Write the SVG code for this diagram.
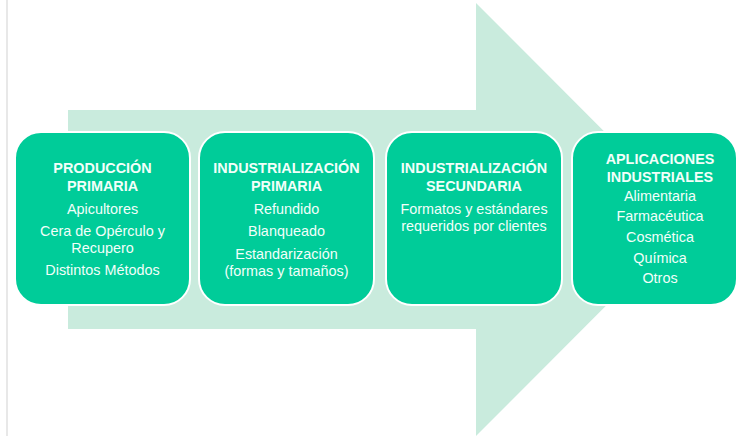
<svg xmlns="http://www.w3.org/2000/svg" width="738" height="436" viewBox="0 0 738 436">
<style>
.box{fill:#00cc99;stroke:#ffffff;stroke-width:2}
.t{font-family:"Liberation Sans",Arial,sans-serif;font-size:14.4px;fill:#f2fff9;text-anchor:middle}
.b{font-weight:bold}
</style>
<rect x="0" y="0" width="738" height="436" fill="#ffffff"/>
<line x1="7" y1="0" x2="7" y2="436" stroke="#e8e8e8" stroke-width="2"/>
<g id="arrow">
<polygon points="68,110 476,110 476,3 692,219.5 476,436 476,329 68,329" fill="#c9ebdd"/>
</g>
<g id="connectors"></g>
<g id="node1">
<rect class="box" x="15" y="132" width="175" height="173" rx="26"/>
<text class="t b" x="102.5" y="173">PRODUCCIÓN</text>
<text class="t b" x="102.5" y="191">PRIMARIA</text>
<text class="t" x="102.5" y="214">Apicultores</text>
<text class="t" x="102.5" y="236">Cera de Opérculo y</text>
<text class="t" x="102.5" y="253">Recupero</text>
<text class="t" x="102.5" y="275">Distintos Métodos</text>
</g>
<g id="node2">
<rect class="box" x="199" y="132" width="175" height="173" rx="26"/>
<text class="t b" x="286.5" y="173">INDUSTRIALIZACIÓN</text>
<text class="t b" x="286.5" y="191">PRIMARIA</text>
<text class="t" x="286.5" y="214">Refundido</text>
<text class="t" x="286.5" y="236">Blanqueado</text>
<text class="t" x="286.5" y="259">Estandarización</text>
<text class="t" x="286.5" y="276">(formas y tamaños)</text>
</g>
<g id="node3">
<rect class="box" x="386" y="132" width="176" height="173" rx="26"/>
<text class="t b" x="474" y="173">INDUSTRIALIZACIÓN</text>
<text class="t b" x="474" y="191">SECUNDARIA</text>
<text class="t" x="474" y="214">Formatos y estándares</text>
<text class="t" x="474" y="231">requeridos por clientes</text>
</g>
<g id="node4">
<rect class="box" x="572" y="132" width="165" height="173" rx="26"/>
<text class="t b" x="660" y="164">APLICACIONES</text>
<text class="t b" x="660" y="182">INDUSTRIALES</text>
<text class="t" x="660" y="201">Alimentaria</text>
<text class="t" x="660" y="221">Farmacéutica</text>
<text class="t" x="660" y="242">Cosmética</text>
<text class="t" x="660" y="263">Química</text>
<text class="t" x="660" y="283">Otros</text>
</g>
</svg>
